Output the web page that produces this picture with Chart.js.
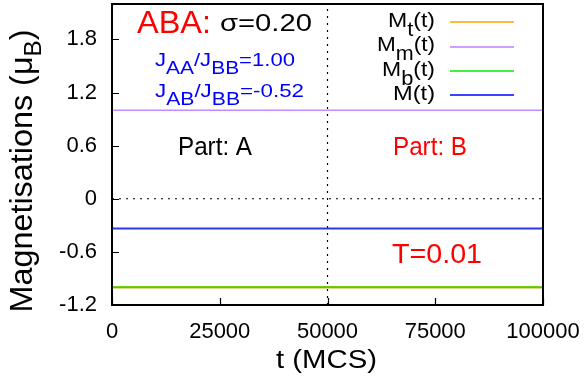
<!DOCTYPE html>
<html lang="en">
<head>
<meta charset="UTF-8">
<title>Magnetisations</title>
<script src="https://cdn.jsdelivr.net/npm/chart.js/dist/chart.umd.min.js"></script>
<style>
  html, body { margin: 0; padding: 0; background: #fff; }
  #wrap { width: 586px; height: 378px; }
</style>
</head>
<body>
<div id="wrap"><canvas id="mag"></canvas></div>
<script>
// data
const tSteps = [0, 100000];
const mTop = [-1.0, -1.0];
const mMid = [1.0, 1.0];
const mBot = [-1.0, -1.0];
const mTotal = [-0.335, -0.335];
const xTicks = [0, 25000, 50000, 75000, 100000];
const yTicks = [-1.2, -0.6, 0, 0.6, 1.2, 1.8];
const yTickLabels = ['-1.2', '-0.6', '0', '0.6', '1.2', '1.8'];
const xRange = [0, 100000];
const yRange = [-1.2, 2.2];
const zeroLine = [0, 0];
const partSplit = 50000;

const FONT = '"Liberation Sans", Arial, sans-serif';

function pts(xs, ys) {
  return xs.map((x, i) => ({ x: x, y: ys[i] }));
}

// text runs with subscripts, e.g. [['J'],['AA',1]]; w = wanted width (stretches the text)
function drawRuns(ctx, x, y, runs, size, color, align, w, subRatio, subDrop) {
  const subSize = Math.round(size * (subRatio || 0.75));
  const drop = subDrop != null ? subDrop : size * 0.4;
  let total = 0;
  runs.forEach(r => {
    ctx.font = (r[1] ? subSize : size) + 'px ' + FONT;
    total += ctx.measureText(r[0]).width;
  });
  const sx = w ? w / total : 1;
  const width = total * sx;
  const left = align === 'right' ? x - width : (align === 'center' ? x - width / 2 : x);
  ctx.save();
  ctx.translate(left, y);
  ctx.scale(sx, 1);
  ctx.fillStyle = color;
  ctx.textAlign = 'left';
  ctx.textBaseline = 'alphabetic';
  let cx = 0;
  runs.forEach(r => {
    ctx.font = (r[1] ? subSize : size) + 'px ' + FONT;
    ctx.fillText(r[0], cx, r[1] ? drop : 0);
    cx += ctx.measureText(r[0]).width;
  });
  ctx.restore();
}

const legendItems = [
  { runs: [['M'], ['t', 1], ['(t)']], color: '#ffa500', w: 47 },
  { runs: [['M'], ['m', 1], ['(t)']], color: '#c080ff', w: 58 },
  { runs: [['M'], ['b', 1], ['(t)']], color: '#00ee00', w: 53 },
  { runs: [['M(t)']], color: '#0000ff', w: 42 },
];

const decor = {
  id: 'decor',
  afterDraw(chart) {
    const { ctx, chartArea: a, scales: { x, y } } = chart;
    ctx.save();
    ctx.setLineDash([]);

    // frame
    ctx.strokeStyle = '#000';
    ctx.lineWidth = 2;
    ctx.strokeRect(a.left, a.top, a.right - a.left, a.bottom - a.top);

    // inward ticks on left and bottom
    ctx.lineWidth = 1.2;
    ctx.beginPath();
    yTicks.forEach(v => {
      const py = Math.round(y.getPixelForValue(v)) + 0.5;
      ctx.moveTo(a.left, py); ctx.lineTo(a.left + 7, py);
    });
    xTicks.forEach(v => {
      const px = Math.round(x.getPixelForValue(v)) + 0.5;
      ctx.moveTo(px, a.bottom); ctx.lineTo(px, a.bottom - 7);
    });
    ctx.stroke();

    drawRuns(ctx, 137, 33, [['ABA:']], 31, '#ff0000', 'left', 74);
    drawRuns(ctx, 220, 31, [['σ=0.20']], 23, '#000', 'left', 92);
    drawRuns(ctx, 155, 66, [['J'], ['AA', 1], ['/J'], ['BB', 1], ['=1.00']], 19, '#0000ff', 'left', 140, 0.95, 8);
    drawRuns(ctx, 155, 97, [['J'], ['AB', 1], ['/J'], ['BB', 1], ['=-0.52']], 19, '#0000ff', 'left', 149, 0.95, 8);

    // legend
    legendItems.forEach((it, i) => {
      const base = 27 + i * 24.3;
      drawRuns(ctx, 435, base, it.runs, 21, '#000', 'right', it.w, 0.95, 9);
      ctx.fillStyle = it.color;
      ctx.fillRect(450, Math.round(base - 4.7) - 0.75, 64, 1.5);
    });

    drawRuns(ctx, 178, 155, [['Part: A']], 25, '#000', 'left', 74);
    drawRuns(ctx, 393, 155, [['Part: B']], 25, '#ff0000', 'left', 74);
    drawRuns(ctx, 392, 263, [['T=0.01']], 28, '#ff0000', 'left', 90);

    // axis titles
    drawRuns(ctx, 276, 368, [['t (MCS)']], 25, '#000', 'left', 101);
    ctx.translate(32, 171);
    ctx.rotate(-Math.PI / 2);
    drawRuns(ctx, 0, 0, [['Magnetisations (μ'], ['B', 1], [')']], 32, '#000', 'center', 283, 0.75, 9);

    ctx.restore();
  }
};

new Chart(document.getElementById('mag'), {
  type: 'line',
  data: {
    // first dataset is painted last (on top)
    datasets: [
      { data: pts(tSteps, mTotal), borderColor: '#2838ee', borderWidth: 2 },
      { data: pts(tSteps, mBot), borderColor: '#44d400', borderWidth: 2 },
      { data: pts(tSteps, mMid), borderColor: '#c28cff', borderWidth: 1.6 },
      { data: pts(tSteps, mTop), borderColor: '#ffa500', borderWidth: 2 },
      { data: pts(tSteps, zeroLine), borderColor: '#000', borderWidth: 1.2, borderDash: [2, 5] },
      { data: [{ x: partSplit, y: yRange[0] }, { x: partSplit, y: yRange[1] }], borderColor: '#000', borderWidth: 1.2, borderDash: [2, 5] },
    ]
  },
  options: {
    responsive: true,
    maintainAspectRatio: false,
    animation: false,
    events: [],
    elements: { point: { radius: 0 }, line: { tension: 0 } },
    layout: { padding: { left: 0, right: 43, top: 4, bottom: 0 } },
    plugins: { legend: { display: false }, tooltip: { enabled: false } },
    scales: {
      x: {
        type: 'linear',
        min: xRange[0], max: xRange[1],
        afterBuildTicks: s => { s.ticks = xTicks.map(v => ({ value: v })); },
        afterFit: s => { s.height = 73; s.paddingLeft = 0; s.paddingRight = 0; },
        grid: { display: false, drawTicks: false },
        border: { display: false },
        ticks: {
          padding: 14,
          color: '#000',
          font: { family: FONT, size: 22 },
          maxRotation: 0,
          autoSkip: false,
          callback: v => String(v)
        }
      },
      y: {
        type: 'linear',
        min: yRange[0], max: yRange[1],
        afterBuildTicks: s => { s.ticks = yTicks.map(v => ({ value: v })); },
        afterFit: s => { s.width = 112; s.paddingTop = 0; s.paddingBottom = 0; },
        grid: { display: false, drawTicks: false },
        border: { display: false },
        ticks: {
          padding: 15,
          color: '#000',
          font: { family: FONT, size: 22 },
          autoSkip: false,
          callback: v => yTickLabels[yTicks.indexOf(v)]
        }
      }
    }
  },
  plugins: [decor]
});
</script>
</body>
</html>
